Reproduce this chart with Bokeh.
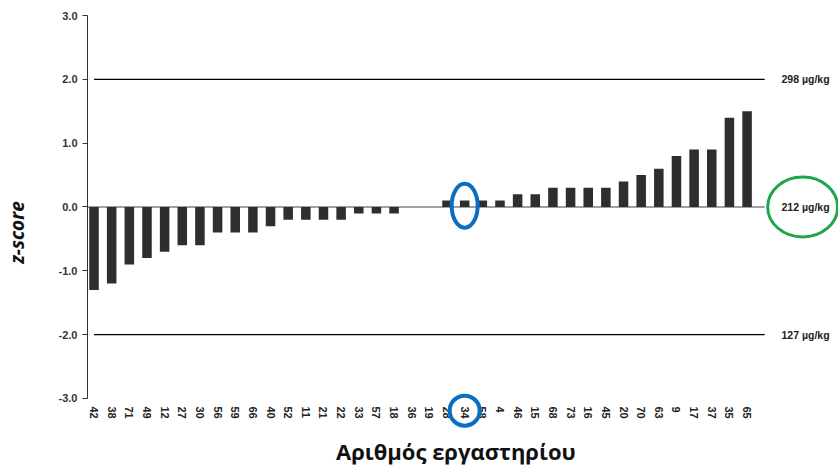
import math
from bokeh.plotting import figure
from bokeh.models import Range1d, FixedTicker, ColumnDataSource, CustomJSTickFormatter
from bokeh.core.properties import value
from bokeh.embed import file_html
from bokeh.resources import INLINE

labs = ["42", "38", "71", "49", "12", "27", "30", "56", "59", "66", "40", "52", "11",
        "21", "22", "33", "57", "18", "36", "19", "28", "34", "58", "4", "46", "15",
        "68", "73", "16", "45", "20", "70", "63", "9", "17", "37", "35", "65"]
zscores = [-1.3, -1.2, -0.9, -0.8, -0.7, -0.6, -0.6, -0.4, -0.4, -0.4, -0.3, -0.2, -0.2,
           -0.2, -0.2, -0.1, -0.1, -0.1, 0.0, 0.0, 0.1, 0.1, 0.1, 0.1, 0.2, 0.2,
           0.3, 0.3, 0.3, 0.3, 0.4, 0.5, 0.6, 0.8, 0.9, 0.9, 1.4, 1.5]
y_ticks = [-3, -2, -1, 0, 1, 2, 3]
ref_levels = [2, 0, -2]
ref_labels = ["298 µg/kg", "212 µg/kg", "127 µg/kg"]
highlight_lab = "34"
x_title = "Αριθμός εργαστηρίου"
y_title = "z-score"

n = len(labs)
idx = list(range(n))

p = figure(width=838, height=468, output_backend="svg", toolbar_location=None,
           x_axis_location=None,
           x_range=Range1d(-0.37, 42.18), y_range=Range1d(-4.034, 3.235),
           min_border_left=87, min_border_right=0, min_border_top=0, min_border_bottom=4)
p.outline_line_color = None
p.grid.visible = False
p.background_fill_color = "white"

# y axis
ya = p.yaxis[0]
ya.ticker = FixedTicker(ticks=y_ticks)
ya.bounds = (min(y_ticks), max(y_ticks))
ya.formatter = CustomJSTickFormatter(code="return tick.toFixed(1);")
ya.major_tick_out = 5
ya.major_tick_in = 0
ya.minor_tick_line_color = None
ya.axis_line_color = "#333333"
ya.major_tick_line_color = "#333333"
ya.major_label_text_font = "Liberation Sans"
ya.major_label_text_font_style = "bold"
ya.major_label_text_font_size = "11px"
ya.major_label_text_color = "#333333"
ya.major_label_standoff = 5
ya.axis_label = y_title
ya.axis_label_text_font = "Open Sans"
ya.axis_label_text_font_style = "bold italic"
ya.axis_label_text_font_size = "19px"
ya.axis_label_text_color = "#111111"
ya.axis_label_standoff = 26

# zero line and reference lines
x_end = n
p.segment(x0=[-0.5], y0=[0], x1=[x_end], y1=[0], line_color="#808080", line_width=1.6)
ref_src = ColumnDataSource(dict(y=[v for v in ref_levels if v != 0]))
p.segment(x0=0, y0="y", x1=x_end, y1="y", source=ref_src, line_color="#000000", line_width=1.2)

# bars
p.vbar(x=idx, top=zscores, bottom=0, width=0.54, fill_color="#2e2e2e", line_color=None)

# x category labels (rotated)
p.text(x=idx, y=[-3.125] * n, text=labs, angle=-math.pi / 2,
       text_align="left", text_baseline="middle",
       text_font=value("Liberation Sans"), text_font_style="bold",
       text_font_size="11px", text_color="#222222")

# x title
p.text(x=[20.5], y=[-3.83], text=[x_title], text_align="center", text_baseline="middle",
       text_font=value("Open Sans"), text_font_style="bold", text_font_size="22px",
       text_color="#111111")

# reference value labels
p.text(x=[x_end + 0.95] * len(ref_levels), y=ref_levels, text=ref_labels,
       text_align="left", text_baseline="middle",
       text_font=value("Liberation Sans"), text_font_size="10.5px",
       text_font_style="bold", text_color="#222222")

# highlights
hi = labs.index(highlight_lab)
p.ellipse(x=[hi], y=[0.02], width=26, height=44, width_units="screen", height_units="screen",
          fill_color=None, line_color="#0a6fc2", line_width=4)
p.ellipse(x=[hi], y=[-3.19], width=30, height=30, width_units="screen", height_units="screen",
          fill_color=None, line_color="#0a6fc2", line_width=4)
p.ellipse(x=[x_end + 2.15], y=[0], width=70, height=60, width_units="screen", height_units="screen",
          fill_color=None, line_color="#1fa64a", line_width=3)

open("out.html", "w").write(file_html(p, INLINE))
